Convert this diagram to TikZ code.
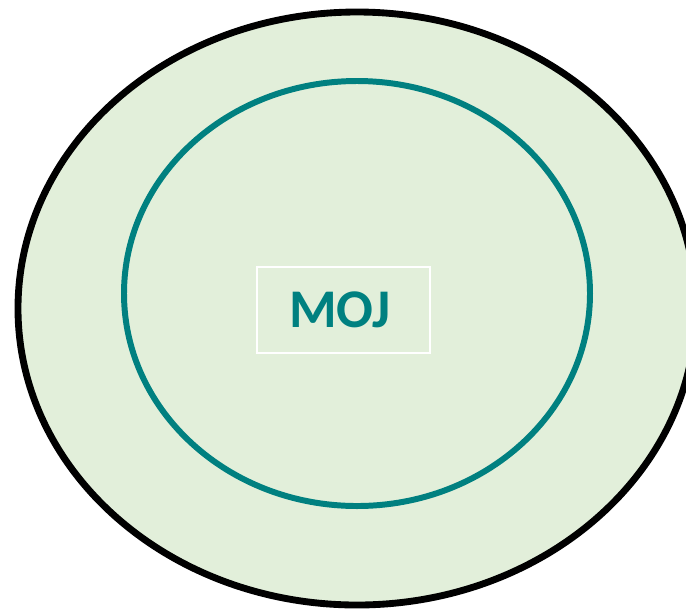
\documentclass[tikz,border=0pt]{standalone}
\usepackage{fontspec}
\setmainfont{Carlito}
\usetikzlibrary{shapes.geometric, positioning}
\definecolor{mojteal}{RGB}{0,128,128}
\definecolor{mojgreen}{RGB}{226,239,218}

\begin{document}
\begin{tikzpicture}[
  outerring/.style={ellipse, draw=black, fill=mojgreen, line width=3.9pt, minimum width=13.56cm, minimum height=11.86cm, inner sep=0pt},
  innerring/.style={ellipse, draw=mojteal, line width=3.4pt, minimum width=9.32cm, minimum height=8.5cm, inner sep=0pt},
  label/.style={rectangle, draw=white, line width=0.8pt, minimum width=3.46cm, minimum height=1.72cm, inner sep=0pt},
  mojtext/.style={font=\fontsize{31}{34}\selectfont\bfseries, text=mojteal, inner sep=0pt}
]
\useasboundingbox (0,0) rectangle (13.72,-12.2);
\clip (0,0) rectangle (13.72,-12.2);
% Rings
\node[outerring] (outer) at (7.14,-6.17) {};
\node[innerring] (inner) at (7.14,-5.87) {};
% Label
\node[label] (box) at (6.87,-6.2) {};
\node[mojtext] (moj) at (6.8,-6.2) {MOJ};
\end{tikzpicture}
\end{document}
